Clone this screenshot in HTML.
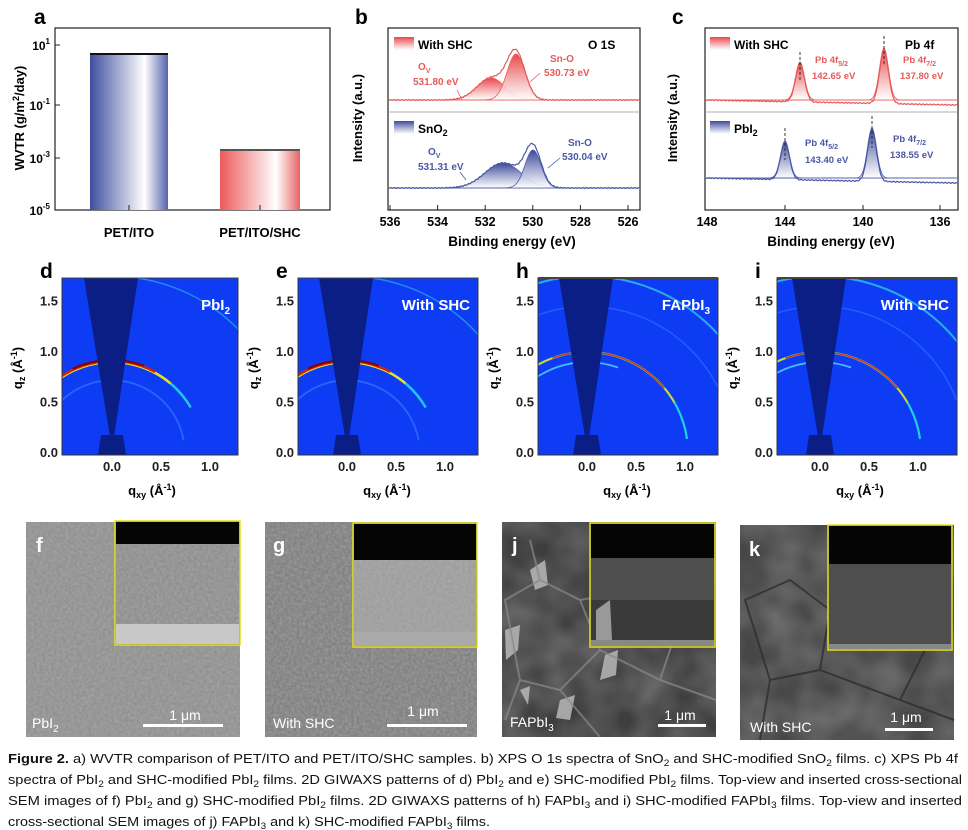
<!DOCTYPE html>
<html><head><meta charset="utf-8">
<style>
html,body{margin:0;padding:0;background:#fff;}
svg{display:block;font-family:"Liberation Sans",Arial,sans-serif;}
.b{font-weight:bold;}
</style></head><body>
<svg id="s" width="968" height="830" viewBox="0 0 968 830" xmlns="http://www.w3.org/2000/svg">
<defs>
<linearGradient id="gb" x1="0" x2="1" y1="0" y2="0"><stop offset="0" stop-color="#3e4f9e"/><stop offset="0.7" stop-color="#fff"/><stop offset="1" stop-color="#5464ac"/></linearGradient>
<linearGradient id="gr" x1="0" x2="1" y1="0" y2="0"><stop offset="0" stop-color="#ec5a5a"/><stop offset="0.7" stop-color="#fff"/><stop offset="1" stop-color="#e86464"/></linearGradient>
<linearGradient id="fr" x1="0" x2="0" y1="0" y2="1"><stop offset="0" stop-color="#e8484c"/><stop offset="1" stop-color="#fff" stop-opacity="0.9"/></linearGradient>
<linearGradient id="fb" x1="0" x2="0" y1="0" y2="1"><stop offset="0" stop-color="#3b4a9a"/><stop offset="1" stop-color="#fff" stop-opacity="0.9"/></linearGradient>
<filter id="n1" x="0" y="0" width="1" height="1"><feTurbulence type="fractalNoise" baseFrequency="0.35" numOctaves="2" seed="3"/><feColorMatrix type="matrix" values="0 0 0 0 0.5  0 0 0 0 0.5  0 0 0 0 0.5  0.6 0 0 0 -0.05"/><feComposite in2="SourceGraphic" operator="in"/></filter>
<filter id="n2" x="0" y="0" width="1" height="1"><feTurbulence type="fractalNoise" baseFrequency="0.03" numOctaves="2" seed="8"/><feColorMatrix type="matrix" values="0 0 0 0 0.25  0 0 0 0 0.25  0 0 0 0 0.25  0.9 0 0 0 -0.2"/><feComposite in2="SourceGraphic" operator="in"/></filter>
<clipPath id="cd"><rect x="62" y="278" width="176" height="177"/></clipPath>
<clipPath id="ce"><rect x="298" y="278" width="180" height="177"/></clipPath>
<clipPath id="ch"><rect x="538" y="278" width="180" height="177"/></clipPath>
<clipPath id="ci"><rect x="777" y="278" width="180" height="177"/></clipPath>
</defs>

<!-- Panel a -->
<text x="34" y="24" class="b" font-size="21">a</text>
<rect x="55" y="28" width="275" height="182" fill="none" stroke="#222" stroke-width="1.2"/>
<rect x="90" y="54" width="78" height="156" fill="url(#gb)"/>
<line x1="90" y1="54" x2="168" y2="54" stroke="#111" stroke-width="2"/>
<rect x="220" y="150" width="80" height="60" fill="url(#gr)"/>
<line x1="220" y1="150" x2="300" y2="150" stroke="#555" stroke-width="2"/>
<g class="b" font-size="12" text-anchor="end">
<text x="50" y="50">10<tspan dy="-6" font-size="8">1</tspan></text>
<text x="50" y="110">10<tspan dy="-6" font-size="8">-1</tspan></text>
<text x="50" y="163">10<tspan dy="-6" font-size="8">-3</tspan></text>
<text x="50" y="215">10<tspan dy="-6" font-size="8">-5</tspan></text>
</g>
<g stroke="#222"><line x1="55" y1="45" x2="60" y2="45"/><line x1="55" y1="105" x2="60" y2="105"/><line x1="55" y1="158" x2="60" y2="158"/><line x1="129" y1="210" x2="129" y2="205"/><line x1="260" y1="210" x2="260" y2="205"/></g>
<text transform="translate(24,118) rotate(-90)" text-anchor="middle" class="b" font-size="13">WVTR (g/m<tspan dy="-5" font-size="9">2</tspan><tspan dy="5">/day)</tspan></text>
<text x="129" y="237" text-anchor="middle" class="b" font-size="13">PET/ITO</text>
<text x="260" y="237" text-anchor="middle" class="b" font-size="13">PET/ITO/SHC</text>

<!-- Panel b -->
<text x="355" y="24" class="b" font-size="21">b</text>
<rect x="388" y="28" width="252" height="182" fill="none" stroke="#222" stroke-width="1.2"/>
<line x1="388" y1="112" x2="640" y2="112" stroke="#999" stroke-width="0.8"/>
<g id="bcurves"></g>
<rect x="394" y="37" width="20" height="13" fill="url(#fr)"/>
<text x="418" y="49" class="b" font-size="12">With SHC</text>
<text x="588" y="49" class="b" font-size="12">O 1S</text>
<rect x="394" y="121" width="20" height="13" fill="url(#fb)"/>
<text x="418" y="133" class="b" font-size="12">SnO<tspan dy="3" font-size="9">2</tspan></text>
<g fill="#e65a5a" font-size="10" class="b">
<text x="418" y="70">O<tspan dy="3" font-size="7">V</tspan></text>
<text x="413" y="85">531.80 eV</text>
<text x="550" y="62">Sn-O</text>
<text x="544" y="76">530.73 eV</text>
</g>
<g fill="#4a58a6" font-size="10" class="b">
<text x="428" y="155">O<tspan dy="3" font-size="7">V</tspan></text>
<text x="418" y="170">531.31 eV</text>
<text x="568" y="146">Sn-O</text>
<text x="562" y="160">530.04 eV</text>
</g>
<g stroke-width="0.8"><line x1="457" y1="90" x2="462" y2="100" stroke="#e65a5a"/><line x1="540" y1="73" x2="530" y2="82" stroke="#e65a5a"/><line x1="460" y1="172" x2="466" y2="180" stroke="#4a58a6"/><line x1="560" y1="158" x2="548" y2="168" stroke="#4a58a6"/></g>
<g class="b" font-size="12.5" text-anchor="middle" id="bt"></g>
<text x="512" y="246" text-anchor="middle" class="b" font-size="13.5">Binding energy (eV)</text>
<text transform="translate(362,118) rotate(-90)" text-anchor="middle" class="b" font-size="13">Intensity (a.u.)</text>

<!-- Panel c -->
<text x="672" y="24" class="b" font-size="21">c</text>
<rect x="705" y="28" width="253" height="182" fill="none" stroke="#222" stroke-width="1.2"/>
<line x1="705" y1="112" x2="958" y2="112" stroke="#999" stroke-width="0.8"/>
<g id="ccurves"></g>
<rect x="710" y="37" width="20" height="13" fill="url(#fr)"/>
<text x="734" y="49" class="b" font-size="12">With SHC</text>
<text x="905" y="49" class="b" font-size="12">Pb 4f</text>
<rect x="710" y="121" width="20" height="13" fill="url(#fb)"/>
<text x="734" y="133" class="b" font-size="12">PbI<tspan dy="3" font-size="9">2</tspan></text>
<g fill="#e65a5a" font-size="9.5" class="b">
<text x="815" y="63">Pb 4f<tspan dy="3" font-size="7">5/2</tspan></text>
<text x="812" y="79">142.65 eV</text>
<text x="903" y="63">Pb 4f<tspan dy="3" font-size="7">7/2</tspan></text>
<text x="900" y="79">137.80 eV</text>
</g>
<g fill="#4a58a6" font-size="9.5" class="b">
<text x="805" y="146">Pb 4f<tspan dy="3" font-size="7">5/2</tspan></text>
<text x="805" y="163">143.40 eV</text>
<text x="893" y="142">Pb 4f<tspan dy="3" font-size="7">7/2</tspan></text>
<text x="890" y="158">138.55 eV</text>
</g>
<g stroke="#222" stroke-dasharray="3,2" stroke-width="0.9"><line x1="800" y1="52" x2="800" y2="80"/><line x1="884" y1="36" x2="884" y2="66"/><line x1="785" y1="128" x2="785" y2="160"/><line x1="872" y1="116" x2="872" y2="148"/></g>
<g class="b" font-size="12.5" text-anchor="middle">
<text x="707" y="226">148</text><text x="785" y="226">144</text><text x="863" y="226">140</text><text x="940" y="226">136</text>
</g>
<g stroke="#222"><line x1="785" y1="210" x2="785" y2="205"/><line x1="863" y1="210" x2="863" y2="205"/><line x1="940" y1="210" x2="940" y2="205"/></g>
<text x="831" y="246" text-anchor="middle" class="b" font-size="13.5">Binding energy (eV)</text>
<text transform="translate(677,118) rotate(-90)" text-anchor="middle" class="b" font-size="13">Intensity (a.u.)</text>

<!-- GIWAXS -->
<g id="giw"></g>

<!-- SEM -->
<g>
<rect x="26" y="522" width="214" height="215" fill="#8c8c8c"/>
<rect x="26" y="522" width="214" height="215" fill="#8c8c8c" filter="url(#n1)"/>
<rect x="265" y="522" width="212" height="215" fill="#7a7a7a"/>
<rect x="265" y="522" width="212" height="215" fill="#7a7a7a" filter="url(#n1)"/>
<rect x="502" y="522" width="214" height="215" fill="#3e3e3e"/>
<rect x="502" y="522" width="214" height="215" fill="#3e3e3e" filter="url(#n2)"/>
<rect x="740" y="525" width="214" height="215" fill="#474747"/>
<rect x="740" y="525" width="214" height="215" fill="#474747" filter="url(#n2)"/>
<g fill="#b8b8b8" opacity="0.85">
<polygon points="505,630 520,625 518,650 506,660"/>
<polygon points="530,570 545,560 548,585 535,590"/>
<polygon points="605,655 618,650 616,675 600,680"/>
<polygon points="560,700 575,695 570,720 556,718"/>
<polygon points="520,690 530,686 528,705"/>
</g>
<g fill="none" stroke="#8a8a8a" stroke-width="2" opacity="0.7">
<path d="M505 600 L540 580 L580 600 L600 650 L560 690 L520 680 Z M580 600 L640 590 L680 620 L660 680 L600 650 M560 690 L600 737 M660 680 L716 700 M520 680 L505 720 M540 580 L530 540"/>
</g>
<g fill="none" stroke="#2e2e2e" stroke-width="2" opacity="0.8">
<path d="M745 600 L790 580 L830 610 L820 670 L770 680 Z M830 610 L890 600 L930 640 L900 700 L820 670 M770 680 L760 740 M900 700 L954 720"/>
</g>
<!-- insets -->
<rect x="115" y="521" width="125" height="124" fill="#6a6a6a" stroke="#e8e01a" stroke-width="1.5"/>
<rect x="116" y="522" width="123" height="22" fill="#050505"/>
<rect x="116" y="544" width="123" height="80" fill="#8a8a8a"/>
<rect x="116" y="544" width="123" height="80" fill="#8a8a8a" filter="url(#n1)"/>
<rect x="116" y="624" width="123" height="20" fill="#c8c8c8"/>
<rect x="353" y="523" width="124" height="124" fill="#6a6a6a" stroke="#e8e01a" stroke-width="1.5"/>
<rect x="354" y="524" width="122" height="36" fill="#050505"/>
<rect x="354" y="560" width="122" height="72" fill="#9a9a9a"/>
<rect x="354" y="560" width="122" height="72" fill="#9a9a9a" filter="url(#n1)"/>
<rect x="354" y="632" width="122" height="14" fill="#aaa"/>
<rect x="590" y="523" width="125" height="124" fill="#4e4e4e" stroke="#e8e01a" stroke-width="1.5"/>
<rect x="591" y="524" width="123" height="34" fill="#050505"/>
<rect x="591" y="600" width="123" height="40" fill="#3a3a3a"/>
<polygon points="596,610 610,600 612,640 596,640" fill="#999"/>
<rect x="591" y="640" width="123" height="6" fill="#888"/>
<rect x="828" y="525" width="124" height="125" fill="#4e4e4e" stroke="#e8e01a" stroke-width="1.5"/>
<rect x="829" y="526" width="122" height="38" fill="#050505"/>
<rect x="829" y="644" width="122" height="5" fill="#888"/>
<g fill="#fff" class="b">
<text x="36" y="552" font-size="20">f</text>
<text x="273" y="552" font-size="20">g</text>
<text x="512" y="552" font-size="20">j</text>
<text x="749" y="556" font-size="20">k</text>
<text x="32" y="728" font-size="14" font-weight="normal">PbI<tspan dy="4" font-size="10">2</tspan></text>
<text x="273" y="728" font-size="14" font-weight="normal">With SHC</text>
<text x="510" y="727" font-size="14" font-weight="normal">FAPbI<tspan dy="4" font-size="10">3</tspan></text>
<text x="750" y="732" font-size="14" font-weight="normal">With SHC</text>
<text x="185" y="720" font-size="14" font-weight="normal" text-anchor="middle">1 μm</text>
<text x="423" y="716" font-size="14" font-weight="normal" text-anchor="middle">1 μm</text>
<text x="680" y="720" font-size="14" font-weight="normal" text-anchor="middle">1 μm</text>
<text x="906" y="722" font-size="14" font-weight="normal" text-anchor="middle">1 μm</text>
<rect x="143" y="724" width="80" height="3"/>
<rect x="387" y="724" width="80" height="3"/>
<rect x="658" y="724" width="48" height="3"/>
<rect x="885" y="728" width="48" height="3"/>
</g>
</g>

<!-- caption -->
<g font-family="'Liberation Sans Narrow','Liberation Sans',sans-serif" font-size="13" fill="#111">
<text x="8" y="763" textLength="950" lengthAdjust="spacingAndGlyphs"><tspan font-weight="bold">Figure 2.</tspan> a) WVTR comparison of PET/ITO and PET/ITO/SHC samples. b) XPS O 1s spectra of SnO<tspan dy="3" font-size="9">2</tspan><tspan dy="-3"> and SHC-modified SnO</tspan><tspan dy="3" font-size="9">2</tspan><tspan dy="-3"> films. c) XPS Pb 4f</tspan></text>
<text x="8" y="784" textLength="954" lengthAdjust="spacingAndGlyphs">spectra of PbI<tspan dy="3" font-size="9">2</tspan><tspan dy="-3"> and SHC-modified PbI</tspan><tspan dy="3" font-size="9">2</tspan><tspan dy="-3"> films. 2D GIWAXS patterns of d) PbI</tspan><tspan dy="3" font-size="9">2</tspan><tspan dy="-3"> and e) SHC-modified PbI</tspan><tspan dy="3" font-size="9">2</tspan><tspan dy="-3"> films. Top-view and inserted cross-sectional</tspan></text>
<text x="8" y="805" textLength="954" lengthAdjust="spacingAndGlyphs">SEM images of f) PbI<tspan dy="3" font-size="9">2</tspan><tspan dy="-3"> and g) SHC-modified PbI</tspan><tspan dy="3" font-size="9">2</tspan><tspan dy="-3"> films. 2D GIWAXS patterns of h) FAPbI</tspan><tspan dy="3" font-size="9">3</tspan><tspan dy="-3"> and i) SHC-modified FAPbI</tspan><tspan dy="3" font-size="9">3</tspan><tspan dy="-3"> films. Top-view and inserted</tspan></text>
<text x="8" y="826" textLength="482" lengthAdjust="spacingAndGlyphs">cross-sectional SEM images of j) FAPbI<tspan dy="3" font-size="9">3</tspan><tspan dy="-3"> and k) SHC-modified FAPbI</tspan><tspan dy="3" font-size="9">3</tspan><tspan dy="-3"> films.</tspan></text>
</g>
</svg>
<script>
var NS="http://www.w3.org/2000/svg";
function el(p,t,a,txt){var e=document.createElementNS(NS,t);for(var k in a)e.setAttribute(k,a[k]);if(txt!=null)e.textContent=txt;p.appendChild(e);return e;}
function g(x,c,A,s){return A*Math.exp(-Math.pow((x-c)/s,2)/2);}
function spectrum(par,x0,x1,base,slope,comps,col,fill){
  comps.forEach(function(cp){var d="M"+x0+" "+base;for(var x=x0;x<=x1;x++){d+=" L"+x+" "+(base-g(x,cp[0],cp[1],cp[2])).toFixed(1);}d+=" L"+x1+" "+base+"Z";el(par,"path",{d:d,fill:fill,stroke:col,"stroke-width":0.8});});
  var d="";for(var x=x0;x<=x1;x++){var y=base+(x-x0)*slope+Math.sin(x*1.7)*0.5;comps.forEach(function(cp){y-=g(x,cp[0],cp[1],cp[2]);});d+=(x==x0?"M":" L")+x+" "+y.toFixed(1);}
  el(par,"path",{d:d,fill:"none",stroke:col,"stroke-width":1.2});
}
var bc=document.getElementById("bcurves");
spectrum(bc,389,639,100,0,[[491,22,14],[516,46,9]],"#e65a5a","url(#fr)");
spectrum(bc,389,639,188,0,[[503,25,18],[533,38,8]],"#4a58a6","url(#fb)");
var cc=document.getElementById("ccurves");
spectrum(cc,706,957,100,0.02,[[800,38,4.5],[884,52,4.5]],"#e65a5a","url(#fr)");
spectrum(cc,706,957,178,0.02,[[785,37,4.5],[872,50,4.5]],"#4a58a6","url(#fb)");
var bt=document.getElementById("bt");
[536,534,532,530,528,526].forEach(function(v){var x=390+(536-v)*23.8;el(bt,"text",{x:x,y:226},String(v));el(bt,"line",{x1:x,y1:210,x2:x,y2:205,stroke:"#222"});});
// GIWAXS
var gw=document.getElementById("giw");
var P=[{x:62,w:176,cx:112,lab:"d",t:"PbI",sub:"2",clip:"cd",type:0},
       {x:298,w:180,cx:347,lab:"e",t:"With SHC",sub:"",clip:"ce",type:0},
       {x:538,w:180,cx:587,lab:"h",t:"FAPbI",sub:"3",clip:"ch",type:1},
       {x:777,w:180,cx:820,lab:"i",t:"With SHC",sub:"",clip:"ci",type:1}];
var y0=453,k=101;
P.forEach(function(p){
  el(gw,"text",{x:p.x-22,y:278,"font-size":21,"font-weight":"bold"},p.lab);
  var G=el(gw,"g",{"clip-path":"url(#"+p.clip+")"});
  el(G,"rect",{x:p.x,y:278,width:p.w,height:177,fill:"#0d3cf4"});
  function ring(q,col,w,op){el(G,"circle",{cx:p.cx,cy:y0,r:q*k,fill:"none",stroke:col,"stroke-width":w,opacity:op});}
  function arc(q,a1,a2,col,w,op){var r=q*k;var x1=p.cx+r*Math.cos(a1*Math.PI/180),yy1=y0-r*Math.sin(a1*Math.PI/180),x2=p.cx+r*Math.cos(a2*Math.PI/180),yy2=y0-r*Math.sin(a2*Math.PI/180);el(G,"path",{d:"M"+x1+" "+yy1+" A"+r+" "+r+" 0 0 1 "+x2+" "+yy2,fill:"none",stroke:col,"stroke-width":w,opacity:op==null?1:op});}
  if(p.type==0){
    arc(0.72,170,10,"#3a7cff",2,0.6);arc(1.75,90,20,"#30c0e0",1.5,0.6);
    arc(0.9,180,30,"#20c8e8",2.5);arc(0.9,160,50,"#e8e020",2.5);arc(0.91,130,62,"#d02010",2.5);arc(0.92,115,70,"#8a0000",2);
  } else {
    ring(1.45,"#3a80ff",1.5,0.5);ring(1.75,"#30c8e0",2,0.8);arc(0.9,170,70,"#50c8ff",1.8,0.9);
    arc(1.0,170,8,"#20d0e0",2.2);arc(1.0,135,30,"#e8d020",1.8);arc(1.0,110,40,"#d03010",1.4);
  }
  el(G,"polygon",{points:(p.cx-28)+",278 "+(p.cx+26)+",278 "+(p.cx+2)+",437 "+(p.cx-2)+",437",fill:"#0b1e86"});
  el(G,"polygon",{points:(p.cx-11)+",435 "+(p.cx+11)+",435 "+(p.cx+14)+",455 "+(p.cx-14)+",455",fill:"#0b1e86"});
  el(gw,"rect",{x:p.x,y:278,width:p.w,height:177,fill:"none",stroke:"#333","stroke-width":1});
  el(gw,"line",{x1:p.x,y1:278,x2:p.x+p.w,y2:278,stroke:"#444","stroke-width":p.type?2:1});
  var t=el(gw,"text",{x:p.x+p.w-8,y:310,fill:"#fff","font-size":15,"font-weight":"bold","text-anchor":"end"});
  el(t,"tspan",{},p.t);if(p.sub)el(t,"tspan",{dy:4,"font-size":10},p.sub);
  [["1.5",1.5],["1.0",1.0],["0.5",0.5],["0.0",0]].forEach(function(a){el(gw,"text",{x:p.x-4,y:y0-a[1]*k+4,"font-size":13,"font-weight":"bold","text-anchor":"end",fill:"#222"},a[0]);});
  [["0.0",0],["0.5",0.5],["1.0",1.0]].forEach(function(a){el(gw,"text",{x:p.cx+a[1]*98,y:471,"font-size":13,"font-weight":"bold","text-anchor":"middle",fill:"#222"},a[0]);});
  var xl=el(gw,"text",{x:p.cx+40,y:495,"font-size":13,"font-weight":"bold","text-anchor":"middle"});
  el(xl,"tspan",{},"q");el(xl,"tspan",{dy:3,"font-size":9},"xy");el(xl,"tspan",{dy:-3}," (Å");el(xl,"tspan",{dy:-5,"font-size":9},"-1");el(xl,"tspan",{dy:5},")");
  var yl=el(gw,"text",{transform:"translate("+(p.x-40)+",368) rotate(-90)","font-size":13,"font-weight":"bold","text-anchor":"middle"});
  el(yl,"tspan",{},"q");el(yl,"tspan",{dy:3,"font-size":9},"z");el(yl,"tspan",{dy:-3}," (Å");el(yl,"tspan",{dy:-5,"font-size":9},"-1");el(yl,"tspan",{dy:5},")");
});
</script>
</body></html>
